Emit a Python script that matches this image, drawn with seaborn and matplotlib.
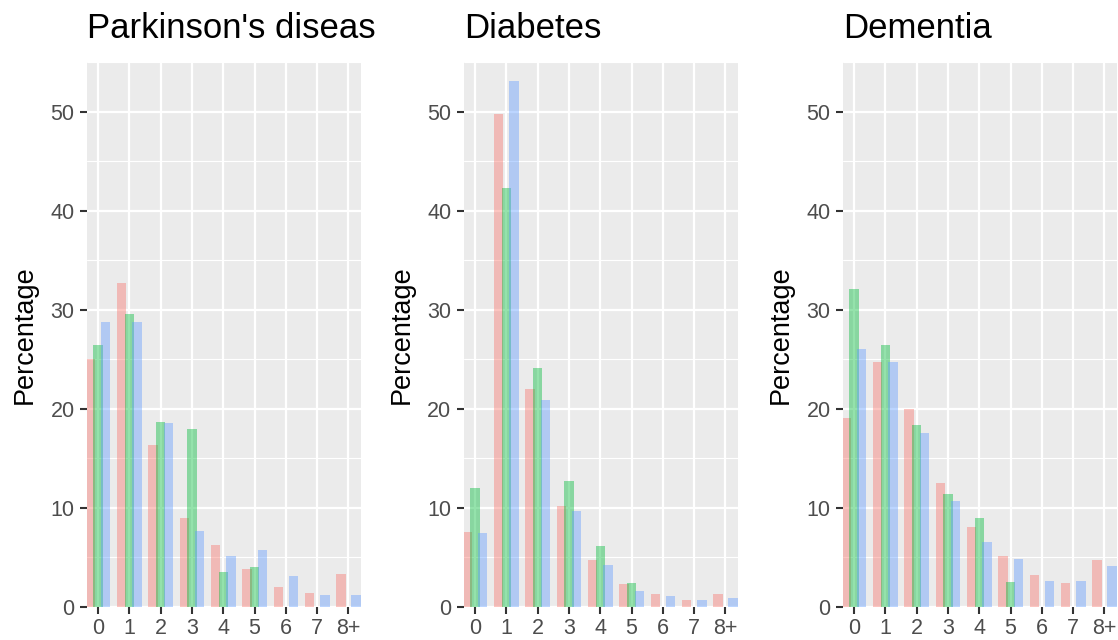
"""
Comorbidity count distribution by condition
Three ggplot-style panels of overlapping bars
"""

import numpy as np
import pandas as pd
import matplotlib
matplotlib.use("Agg")
import matplotlib.pyplot as plt
import seaborn as sns

# categories on the x axis
categories = ["0", "1", "2", "3", "4", "5", "6", "7", "8+"]
titles = ["Parkinson's diseas", "Diabetes", "Dementia"]
groups = ["group_a", "group_b", "group_c"]

# Parkinson's disease
park_a = [25.0, 32.7, 16.3, 9.0, 6.2, 3.8, 2.0, 1.4, 3.3]
park_b = [26.4, 29.6, 18.7, 17.9, 3.5, 4.0, 0.0, 0.0, 0.0]
park_c = [28.7, 28.7, 18.5, 7.6, 5.1, 5.7, 3.1, 1.2, 1.2]

# Diabetes
diab_a = [7.5, 49.7, 22.0, 10.2, 4.7, 2.3, 1.3, 0.7, 1.3]
diab_b = [12.0, 42.3, 24.1, 12.7, 6.1, 2.4, 0.0, 0.0, 0.0]
diab_c = [7.4, 53.1, 20.9, 9.7, 4.2, 1.6, 1.1, 0.7, 0.9]

# Dementia
dem_a = [19.1, 24.7, 20.0, 12.5, 8.0, 5.1, 3.2, 2.35, 4.7]
dem_b = [32.1, 26.4, 18.3, 11.4, 9.0, 2.5, 0.0, 0.0, 0.0]
dem_c = [26.0, 24.7, 17.5, 10.7, 6.5, 4.8, 2.55, 2.55, 4.1]

panels = [
    (park_a, park_b, park_c),
    (diab_a, diab_b, diab_c),
    (dem_a, dem_b, dem_c),
]

colors = ["#F8766D", "#00BA38", "#619CFF"]
offsets = [-0.24, 0.0, 0.245]

sns.set_theme(style="darkgrid")
plt.rcParams["font.family"] = ["Liberation Sans", "DejaVu Sans"]

fig = plt.figure(figsize=(11.18, 6.4), dpi=100)
fig.patch.set_facecolor("white")

W, H = 1118, 640
lefts = [87, 464, 843]
panel_w = 274
y_zero = 606.7
y_top = 62

pos = np.arange(len(categories))

for i, (left, title, series) in enumerate(zip(lefts, titles, panels)):
    ax = fig.add_axes([left / W, (H - y_zero) / H, panel_w / W, (y_zero - y_top) / H])
    ax.set_facecolor("#EBEBEB")

    # one barplot per group, nudged so the bars overlap like the original
    for name, vals, col, off in zip(groups, series, colors, offsets):
        df = pd.DataFrame({"x": pos + off, "pct": vals})
        sns.barplot(data=df, x="x", y="pct", native_scale=True, width=0.3,
                    color=col, saturation=1, alpha=0.42, errorbar=None,
                    linewidth=0, ax=ax, zorder=2)

    ax.set_xlim(-0.35, 8.4)
    ax.set_ylim(0, 55)
    ax.set_xticks(pos)
    ax.set_xticklabels(categories)
    ax.set_yticks([0, 10, 20, 30, 40, 50])
    ax.set_yticks([5, 15, 25, 35, 45, 55], minor=True)

    ax.grid(True, which="major", color="white", linewidth=1.6, zorder=0)
    ax.grid(True, which="minor", axis="y", color="white", linewidth=0.8, zorder=0)
    ax.set_axisbelow(True)
    for s in ax.spines.values():
        s.set_visible(False)

    # darkgrid switches tick marks off, ggplot keeps short dark ones
    ax.tick_params(axis="x", which="major", bottom=True, length=5, width=1.5,
                   color="#333333", labelcolor="#4D4D4D", labelsize=15.5, pad=3)
    ax.tick_params(axis="y", which="major", left=True, length=5, width=1.5,
                   color="#333333", labelcolor="#4D4D4D", labelsize=15.5, pad=4)
    ax.tick_params(axis="both", which="minor", length=0)

    ax.set_xlabel("")
    ax.set_ylabel("Percentage", fontsize=19.5, color="black", labelpad=9)
    ax.set_title(title, loc="left", fontsize=25, color="black", pad=17)

fig.savefig("out.png", dpi=100, facecolor="white")
